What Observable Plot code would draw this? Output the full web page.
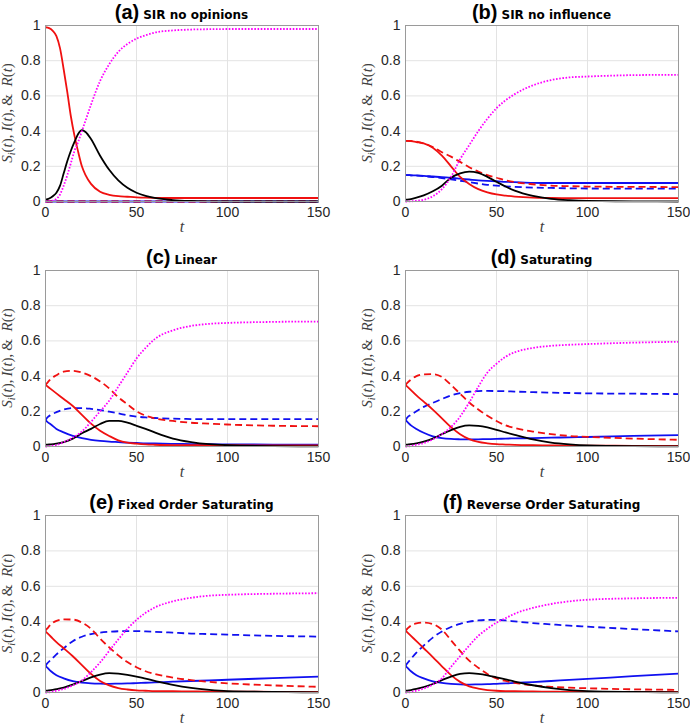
<!DOCTYPE html>
<html><head><meta charset="utf-8">
<script src="https://cdn.jsdelivr.net/npm/d3@7"></script>
<script src="https://cdn.jsdelivr.net/npm/@observablehq/plot@0.6"></script>
<style>
html,body{margin:0;padding:0;background:#fff;overflow:hidden;}
#root{position:relative;width:690px;height:726px;}
.panel{position:absolute;}
</style></head><body><div id="root"></div>
<script>
// time grids
const TA = [0,2,4,6,8,10,12,14,16,18,20,22,25,30,35,40,45,50,55,60,70,80,90,100,125,150];
const T = [0,1,3,6,10,15,20,25,30,35,40,45,50,55,60,70,80,90,100,125,150];
const xTicks = [0,50,100,150];
const yTicks = [0,0.2,0.4,0.6,0.8,1];
const letters = ["(a)","(b)","(c)","(d)","(e)","(f)"];
const titles = ["SIR no opinions","SIR no influence","Linear","Saturating","Fixed Order Saturating","Reverse Order Saturating"];

// (a) SIR no opinions
const aRedSolid  = [.99,.985,.97,.94,.87,.75,.62,.48,.37,.28,.2,.15,.1,.055,.038,.03,.027,.024,.022,.021,.02,.02,.02,.02,.02,.02];
const aRedDash   = [0,0,0,0,0,0,0,0,0,0,0,0,0,0,0,0,0,0,0,0,0,0,0,0,0,0];
const aBlueSolid = [0,0,0,0,0,0,0,0,0,0,0,0,0,0,0,0,0,0,0,0,0,0,0,0,0,0];
const aBlueDash  = [0,0,0,0,0,0,0,0,0,0,0,0,0,0,0,0,0,0,0,0,0,0,0,0,0,0];
const aBlack     = [.01,.017,.03,.05,.09,.16,.23,.29,.34,.385,.405,.395,.355,.26,.18,.12,.078,.05,.032,.02,.008,.003,.001,0,0,0];
const aMagenta   = [0,.001,.005,.015,.04,.09,.15,.22,.29,.34,.4,.46,.55,.685,.78,.85,.895,.925,.945,.96,.972,.977,.979,.98,.98,.98];

// (b) SIR no influence
const bRedSolid  = [.345,.345,.343,.338,.33,.305,.26,.2,.14,.1,.07,.052,.04,.033,.028,.022,.02,.019,.019,.019,.019];
const bRedDash   = [.345,.345,.344,.34,.33,.31,.28,.255,.225,.195,.17,.15,.135,.12,.11,.098,.09,.087,.085,.083,.082];
const bBlueSolid = [.15,.15,.149,.148,.146,.142,.138,.135,.13,.125,.12,.117,.115,.112,.11,.106,.105,.105,.105,.105,.105];
const bBlueDash  = [.15,.15,.149,.147,.144,.139,.133,.126,.118,.11,.102,.095,.09,.086,.083,.079,.077,.075,.074,.073,.073];
const bBlack     = [.01,.011,.014,.022,.035,.058,.09,.135,.16,.17,.163,.14,.112,.085,.062,.032,.015,.007,.003,.001,0];
const bMagenta   = [0,0,.001,.004,.01,.03,.07,.14,.24,.32,.4,.47,.53,.575,.61,.66,.69,.705,.71,.718,.72];

// (c) Linear
const cRedSolid  = [.35,.342,.326,.302,.27,.23,.18,.13,.09,.06,.035,.022,.016,.012,.01,.008,.008,.007,.007,.006,.006];
const cRedDash   = [.35,.362,.385,.405,.425,.43,.42,.4,.37,.33,.28,.24,.2,.175,.16,.145,.135,.13,.125,.118,.115];
const cBlueSolid = [.15,.14,.125,.1,.08,.06,.047,.038,.032,.028,.025,.022,.02,.018,.017,.015,.014,.013,.012,.011,.01];
const cBlueDash  = [.15,.165,.18,.195,.21,.218,.218,.214,.207,.198,.188,.178,.17,.165,.162,.158,.156,.155,.155,.155,.155];
const cBlack     = [.01,.011,.012,.016,.025,.045,.075,.1,.128,.146,.146,.135,.118,.1,.08,.045,.025,.013,.007,.002,.001];
const cMagenta   = [0,0,.003,.008,.025,.05,.085,.14,.2,.26,.34,.42,.5,.56,.61,.66,.685,.697,.702,.708,.71];

// (d) Saturating
const dRedSolid  = [.35,.34,.32,.29,.255,.21,.16,.11,.07,.042,.026,.018,.013,.011,.009,.007,.006,.005,.005,.004,.004];
const dRedDash   = [.35,.362,.38,.4,.41,.411,.395,.35,.3,.25,.21,.175,.145,.12,.105,.085,.07,.06,.055,.045,.038];
const dBlueSolid = [.15,.14,.12,.1,.078,.058,.048,.043,.041,.04,.041,.042,.043,.045,.046,.048,.05,.052,.054,.06,.065];
const dBlueDash  = [.15,.165,.18,.2,.225,.248,.27,.29,.303,.311,.315,.316,.315,.314,.312,.309,.306,.304,.302,.3,.298];
const dBlack     = [.01,.011,.013,.018,.028,.045,.07,.093,.112,.12,.117,.108,.095,.08,.066,.04,.022,.012,.006,.002,.001];
const dMagenta   = [0,0,.003,.01,.02,.04,.07,.11,.17,.25,.34,.42,.47,.51,.535,.56,.572,.578,.582,.59,.595];

// (e) Fixed Order Saturating
const eRedSolid  = [.345,.335,.315,.285,.25,.205,.155,.105,.065,.04,.025,.017,.012,.01,.008,.007,.006,.005,.005,.004,.004];
const eRedDash   = [.35,.362,.385,.405,.413,.412,.395,.36,.305,.255,.21,.172,.143,.12,.105,.084,.07,.06,.052,.04,.032];
const eBlueSolid = [.15,.14,.12,.098,.08,.064,.056,.052,.05,.049,.05,.051,.053,.055,.057,.061,.065,.068,.072,.081,.09];
const eBlueDash  = [.15,.165,.185,.215,.25,.29,.315,.33,.338,.343,.346,.347,.347,.345,.343,.338,.333,.33,.327,.32,.316];
const eBlack     = [.01,.011,.013,.019,.028,.045,.065,.085,.101,.109,.107,.1,.09,.078,.066,.043,.026,.015,.008,.003,.001];
const eMagenta   = [0,0,.003,.01,.02,.04,.068,.115,.17,.235,.3,.36,.41,.45,.48,.515,.535,.547,.552,.558,.561];

// (f) Reverse Order Saturating
const fRedSolid  = [.35,.34,.32,.29,.25,.2,.148,.098,.06,.035,.022,.014,.01,.008,.007,.006,.005,.004,.004,.003,.003];
const fRedDash   = [.35,.36,.378,.39,.395,.387,.355,.295,.235,.18,.14,.105,.08,.065,.055,.04,.032,.027,.024,.018,.015];
const fBlueSolid = [.15,.14,.12,.098,.08,.063,.054,.049,.046,.045,.046,.047,.049,.051,.054,.059,.065,.071,.077,.092,.107];
const fBlueDash  = [.15,.165,.19,.225,.265,.31,.345,.37,.388,.4,.407,.41,.41,.407,.402,.392,.385,.378,.372,.358,.345];
const fBlack     = [.01,.011,.014,.02,.03,.048,.07,.09,.105,.109,.105,.097,.086,.074,.062,.041,.025,.014,.008,.003,.001];
const fMagenta   = [0,0,.003,.01,.022,.045,.08,.145,.205,.265,.32,.36,.395,.42,.445,.478,.5,.515,.524,.532,.535];

const RED = "#f01010", BLUE = "#1010f0", BLACK = "#000000", MAG = "#ff00ff";

const panels = [
  {t: TA, s: [aBlueSolid, aBlueDash, aRedSolid, aRedDash, aBlack, aMagenta]},
  {t: T,  s: [bBlueSolid, bBlueDash, bRedSolid, bRedDash, bBlack, bMagenta]},
  {t: T,  s: [cBlueSolid, cBlueDash, cRedSolid, cRedDash, cBlack, cMagenta]},
  {t: T,  s: [dBlueSolid, dBlueDash, dRedSolid, dRedDash, dBlack, dMagenta]},
  {t: T,  s: [eBlueSolid, eBlueDash, eRedSolid, eRedDash, eBlack, eMagenta]},
  {t: T,  s: [fBlueSolid, fBlueDash, fRedSolid, fRedDash, fBlack, fMagenta]},
];
const styles = [
  {stroke: BLUE, dash: null, w: 1.8},
  {stroke: BLUE, dash: "7,4", w: 1.8},
  {stroke: RED, dash: null, w: 1.8},
  {stroke: RED, dash: "7,4", w: 1.8},
  {stroke: BLACK, dash: null, w: 1.8},
  {stroke: MAG, dash: "1.6,1.6", w: 1.8},
];

const root = document.getElementById("root");
const ylabelParts = [["S",1,0],["i",1,1],["(",0,2],["t",1,0],["),\u2009",0,0],["I",1,0],["(",0,0],["t",1,0],["),\u2009",0,0],["&",0,0],["\u2002R",1,0],["(",0,0],["t",1,0],[")",0,0]];

panels.forEach((p, i) => {
  const col = i % 2, row = Math.floor(i / 2);
  const left = col * 345, top = row * 245;
  const height = row === 2 ? 236 : 245;
  const mL = col === 0 ? 45 : 60, mR = col === 0 ? 27 : 12, mT = 25, mB = row === 2 ? 34 : 44;
  const width = 345;
  const marks = [
    Plot.gridX(xTicks, {stroke: "#e3e3e3", strokeOpacity: 1}),
    Plot.gridY(yTicks, {stroke: "#e3e3e3", strokeOpacity: 1}),
  ];
  p.s.forEach((vals, k) => {
    const st = styles[k];
    marks.push(Plot.line(vals, {x: (d, j) => p.t[j], y: d => d, stroke: st.stroke, strokeWidth: st.w, strokeDasharray: st.dash, strokeLinecap: "butt", curve: "monotone-x"}));
  });
  marks.push(Plot.frame({stroke: "#9a9a9a", strokeWidth: 1}));
  marks.push(Plot.axisX(xTicks, {tickSize: 0, tickPadding: 6, label: null}));
  marks.push(Plot.axisY(yTicks, {tickSize: 0, tickPadding: 5, label: null, tickFormat: d => String(d)}));
  marks.push(Plot.text(["t"], {frameAnchor: "bottom", dy: 30, text: d => d, fontStyle: "italic", fontFamily: "Liberation Serif, serif", fontSize: 16, fill: "#404040"}));
  const chart = Plot.plot({
    width, height, marginLeft: mL, marginRight: mR, marginTop: mT, marginBottom: mB,
    x: {domain: [0, 150]},
    y: {domain: [0, 1]},
    style: {fontFamily: "Liberation Sans, Arial, sans-serif", fontSize: "14px", color: "#262626", background: "transparent", overflow: "visible"},
    marks
  });
  const svg = d3.select(chart);
  const cx = mL + (width - mL - mR) / 2;
  const ph = height - mT - mB;
  const title = svg.append("text").attr("x", cx).attr("y", 19).attr("text-anchor", "middle").attr("fill", "#000").style("font-weight", "bold");
  title.append("tspan").style("font-family", "Liberation Sans, Arial, sans-serif").style("font-size", "20px").text(letters[i]);
  title.append("tspan").attr("dx", 4).style("font-family", "DejaVu Sans, sans-serif").style("font-size", "12px").text(titles[i]);
  const yl = svg.append("text").attr("transform", `translate(${mL - 33},${mT + ph / 2}) rotate(-90)`)
    .attr("text-anchor", "middle").attr("fill", "#404040")
    .style("font-family", "Liberation Serif, serif").style("font-size", "15px");
  ylabelParts.forEach(([txt, it, sub]) => {
    const ts = yl.append("tspan").text(txt).style("font-style", it ? "italic" : "normal");
    if (sub === 1) ts.style("font-size", "10px").attr("dy", 3);
    if (sub === 2) ts.attr("dy", -3);
  });
  const div = document.createElement("div");
  div.className = "panel";
  div.style.left = left + "px";
  div.style.top = top + "px";
  div.appendChild(chart);
  root.appendChild(div);
});
</script></body></html>
